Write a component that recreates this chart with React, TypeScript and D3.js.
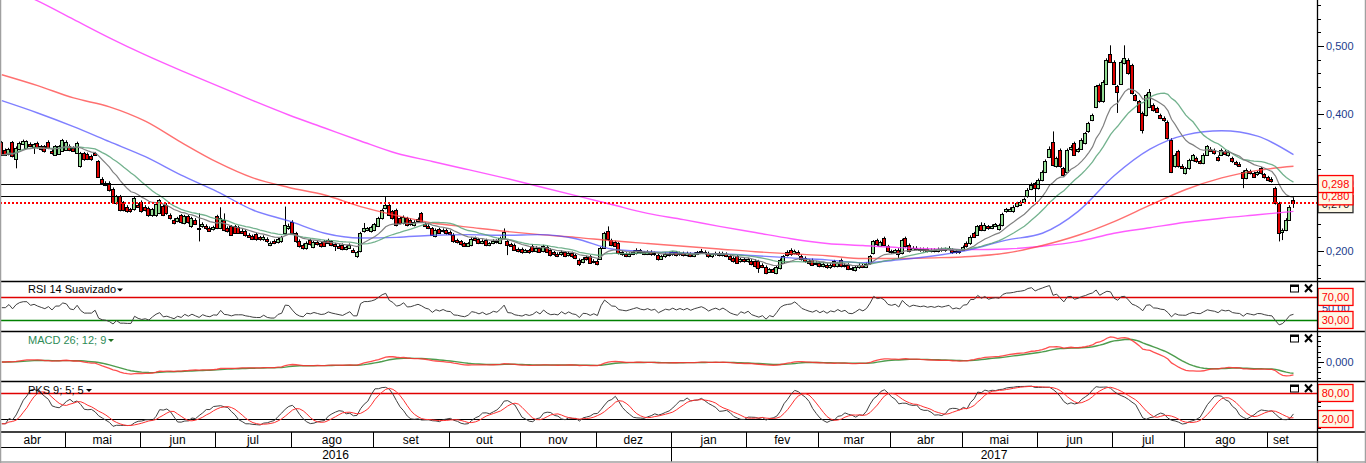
import React from 'react';
import * as d3 from 'd3';

if (typeof document !== 'undefined') {
  document.body.style.margin = '0';
}

const W = 1366;
const H = 463;
const AXIS_X = 1317;
const STEP = 3.588;
const FONT = "'Liberation Sans', Arial, sans-serif";

// ---- time axis categories ----
const MONTH_LABELS = ['abr', 'mai', 'jun', 'jul', 'ago', 'set', 'out', 'nov', 'dez', 'jan', 'fev', 'mar', 'abr', 'mai', 'jun', 'jul', 'ago', 'set'];
const MONTH_DAYS = [18, 21, 21, 21, 23, 21, 20, 21, 21, 21, 20, 20, 20, 21, 21, 20, 23, 8];
const YEAR_LABELS = ['2016', '2017'];
const YEAR_MONTHS = [9, 9];

// ---- daily candles (price in thousandths) ----
const OPEN = [
  359, 348, 342, 359, 334, 349, 356, 351, 357, 352, 358, 353, 353, 360, 347, 341, 342, 346,
  348, 354, 351, 343, 324, 343, 342, 339, 343, 331, 306, 300, 300, 291, 270, 280, 271, 265, 261, 261, 268,
  272, 265, 263, 252, 252, 256, 266, 268, 253, 246, 244, 252, 241, 251, 236, 246, 234, 236, 237, 234, 232,
  251, 234, 246, 234, 236, 236, 235, 230, 230, 224, 222, 225, 220, 217, 218, 209, 215, 213, 214, 226, 233,
  243, 226, 215, 209, 204, 216, 206, 213, 212, 214, 216, 214, 210, 208, 209, 203, 205, 202, 192, 200, 229, 231, 229,
  231, 237, 248, 263, 268, 258, 260, 248, 241, 248, 246, 238, 244, 255, 240, 237, 233, 222, 232, 229, 231,
  228, 224, 216, 214, 211, 208, 209, 219, 217, 212, 216, 209, 212, 215, 212, 219, 214, 210, 209, 203,
  203, 199, 201, 208, 200, 204, 200, 206, 202, 198, 196, 195, 198, 194, 197, 194, 187, 184, 191, 192, 184,
  186, 189, 205, 230, 216, 213, 211, 199, 196, 193, 196, 197, 201, 198, 196, 199, 195, 194, 189, 192, 196,
  195, 198, 195, 197, 194, 196, 193, 196, 198, 199, 197, 192, 195, 197, 194, 196, 193, 190, 192, 185, 188,
  185, 186, 186, 185, 180, 177, 170, 173, 168, 175, 183, 199, 202, 197, 199, 193, 190, 186, 187, 181,
  182, 178, 180, 176, 185, 178, 187, 178, 180, 175, 172, 176, 179, 177, 182, 197, 216, 208, 219, 207,
  200, 198, 202, 197, 219, 209, 202, 205, 203, 201, 203, 200, 202, 200, 203, 201, 203, 202, 198, 200,
  202, 212, 211, 226, 224, 238, 231, 236, 234, 237, 232, 238, 258, 259, 258, 266, 268, 271, 280, 291, 299,
  292, 304, 316, 338, 360, 324, 348, 321, 316, 349, 358, 346, 350, 358, 375, 392, 411, 443, 419, 445, 489,
  477, 441, 445, 475, 480, 472, 428, 419, 402, 399, 411, 414, 409, 399, 395, 389, 363, 324, 346, 325,
  314, 321, 333, 336, 331, 329, 341, 350, 348, 338, 341, 346, 340, 336, 330, 328, 316, 307, 317, 314, 312, 321, 312,
  308, 306, 292, 270, 228, 231, 246, 274,
];
const CLOSE = [
  341, 341, 349, 339, 351, 358, 361, 361, 353, 356, 352, 349, 346, 351, 343, 353, 353, 362,
  360, 348, 346, 358, 343, 334, 334, 334, 341, 309, 300, 297, 289, 271, 280, 260, 260, 258, 258, 277, 265,
  258, 260, 252, 261, 269, 274, 253, 255, 248, 241, 248, 242, 251, 242, 248, 240, 232, 240, 233, 230, 235,
  234, 248, 231, 229, 224, 227, 227, 227, 223, 221, 218, 217, 217, 221, 214, 212, 212, 218, 220, 238, 237,
  226, 214, 207, 204, 212, 210, 213, 210, 207, 208, 212, 209, 207, 205, 203, 206, 209, 199, 199, 226, 233, 233, 235,
  239, 248, 260, 268, 253, 248, 238, 241, 250, 238, 239, 243, 247, 243, 237, 234, 224, 231, 227, 231, 226,
  225, 214, 213, 210, 208, 211, 218, 216, 212, 215, 209, 211, 215, 213, 219, 228, 209, 208, 202, 200,
  198, 201, 198, 200, 205, 199, 207, 199, 194, 195, 193, 199, 193, 197, 192, 190, 181, 189, 188, 183, 186,
  181, 204, 226, 218, 209, 208, 197, 195, 193, 196, 199, 202, 198, 196, 199, 195, 197, 188, 192, 196, 194,
  198, 194, 197, 194, 197, 193, 196, 198, 200, 197, 192, 195, 197, 194, 197, 193, 188, 185, 183, 188, 185,
  188, 181, 178, 175, 177, 168, 173, 170, 177, 187, 192, 194, 195, 200, 195, 188, 185, 182, 180, 183,
  178, 181, 176, 180, 178, 182, 178, 180, 174, 173, 176, 180, 177, 181, 192, 214, 210, 213, 209, 200,
  198, 201, 195, 216, 207, 200, 205, 203, 201, 203, 200, 202, 200, 203, 201, 203, 205, 198, 200, 198,
  206, 207, 221, 221, 236, 231, 238, 233, 237, 239, 238, 254, 261, 262, 265, 270, 272, 276, 290, 297, 292,
  304, 316, 332, 350, 326, 336, 324, 311, 348, 352, 341, 349, 363, 372, 387, 399, 441, 419, 448, 480, 477,
  445, 433, 477, 482, 460, 431, 421, 404, 377, 428, 433, 406, 404, 395, 391, 365, 316, 341, 324, 322,
  321, 333, 340, 331, 329, 341, 353, 347, 343, 333, 348, 342, 345, 331, 327, 325, 307, 319, 314, 309, 315, 314, 308,
  304, 302, 270, 226, 231, 246, 265, 270,
];
const HIGH = [
  361, 350, 351, 361, 353, 360, 363, 362, 359, 358, 360, 355, 355, 362, 349, 355, 355, 364,
  362, 356, 353, 360, 345, 345, 344, 341, 345, 333, 308, 302, 302, 293, 282, 282, 273, 267, 263, 279, 270,
  274, 267, 265, 263, 271, 276, 268, 270, 255, 248, 250, 254, 253, 253, 250, 248, 255, 242, 239, 236, 237,
  253, 264, 255, 236, 238, 238, 237, 232, 232, 226, 224, 227, 222, 223, 220, 214, 217, 220, 222, 265, 240,
  245, 228, 217, 211, 214, 218, 215, 215, 214, 216, 218, 216, 212, 210, 211, 208, 211, 204, 200, 228, 241, 235, 237,
  241, 250, 262, 280, 270, 260, 262, 250, 252, 250, 248, 245, 249, 257, 242, 239, 235, 233, 234, 233, 233,
  230, 226, 218, 216, 213, 213, 220, 221, 219, 217, 218, 213, 217, 217, 221, 233, 216, 212, 211, 205,
  205, 203, 203, 210, 207, 206, 209, 208, 204, 200, 198, 201, 200, 199, 199, 196, 189, 191, 193, 194, 188,
  188, 206, 228, 236, 218, 215, 213, 201, 198, 198, 201, 204, 203, 200, 201, 201, 199, 196, 194, 198, 198,
  200, 200, 199, 199, 199, 198, 198, 200, 203, 201, 199, 197, 199, 199, 199, 198, 195, 192, 194, 190, 190,
  190, 188, 188, 187, 182, 179, 175, 175, 179, 189, 194, 201, 204, 202, 201, 195, 192, 188, 189, 185,
  184, 183, 182, 182, 187, 184, 189, 182, 182, 177, 178, 182, 181, 183, 194, 216, 218, 215, 221, 209,
  202, 203, 204, 218, 221, 211, 207, 207, 205, 205, 205, 204, 204, 205, 205, 205, 207, 204, 202, 202,
  208, 214, 223, 228, 238, 242, 241, 238, 239, 241, 240, 256, 263, 264, 267, 272, 274, 278, 292, 300, 301,
  306, 318, 334, 353, 375, 338, 350, 323, 350, 355, 360, 351, 365, 374, 389, 401, 443, 445, 450, 482, 501,
  479, 443, 479, 501, 482, 474, 430, 421, 404, 430, 437, 416, 411, 401, 397, 391, 365, 343, 348, 327,
  323, 335, 342, 338, 333, 343, 355, 352, 350, 340, 350, 348, 347, 338, 332, 330, 318, 321, 319, 316, 317, 323, 314,
  310, 308, 294, 272, 233, 248, 267, 280,
];
const LOW = [
  339, 339, 340, 337, 321, 348, 355, 350, 352, 342, 350, 347, 344, 349, 341, 340, 341, 345,
  347, 346, 345, 342, 322, 332, 333, 332, 339, 307, 298, 295, 287, 269, 268, 258, 258, 256, 256, 259, 263,
  256, 258, 250, 250, 250, 254, 251, 253, 246, 239, 242, 240, 239, 240, 234, 238, 214, 234, 231, 228, 230,
  232, 232, 229, 227, 222, 225, 225, 225, 221, 219, 216, 215, 215, 215, 212, 207, 210, 211, 212, 224, 231,
  224, 212, 205, 202, 202, 208, 204, 208, 205, 206, 210, 207, 200, 203, 201, 201, 203, 197, 190, 198, 227, 229, 227,
  229, 235, 246, 261, 251, 246, 236, 239, 239, 236, 237, 236, 242, 241, 235, 232, 222, 220, 225, 227, 224,
  223, 212, 211, 208, 206, 206, 207, 214, 210, 210, 207, 207, 210, 211, 210, 217, 194, 206, 200, 198,
  196, 197, 196, 198, 198, 197, 198, 197, 192, 193, 191, 193, 191, 192, 190, 188, 178, 182, 186, 181, 182,
  179, 187, 203, 215, 207, 206, 195, 193, 191, 191, 194, 195, 196, 194, 194, 193, 193, 186, 187, 190, 192,
  193, 192, 193, 192, 192, 191, 191, 194, 196, 195, 190, 190, 193, 192, 192, 191, 186, 183, 181, 183, 183,
  183, 179, 176, 168, 175, 166, 168, 168, 166, 173, 181, 192, 193, 195, 193, 186, 183, 180, 178, 179,
  176, 176, 174, 174, 176, 176, 176, 176, 172, 171, 170, 174, 175, 175, 180, 195, 207, 206, 207, 198,
  196, 196, 190, 195, 205, 198, 200, 201, 199, 199, 198, 198, 198, 198, 199, 199, 201, 196, 196, 196,
  200, 205, 209, 219, 222, 229, 229, 231, 232, 235, 230, 236, 256, 257, 256, 264, 266, 269, 278, 289, 272,
  290, 302, 314, 336, 324, 322, 322, 309, 314, 347, 339, 344, 348, 356, 373, 390, 409, 417, 417, 443, 475,
  443, 402, 443, 473, 458, 429, 419, 402, 372, 397, 409, 404, 402, 393, 389, 363, 314, 322, 322, 320,
  312, 319, 331, 329, 327, 327, 339, 345, 341, 331, 339, 340, 338, 329, 325, 323, 292, 305, 312, 307, 310, 312, 306,
  302, 300, 268, 214, 216, 229, 244, 263,
];

// ---- long moving averages (every 10 candles) ----
const MA_IDX = d3.range(0, 361, 10);
const MA_BLUE = [420, 402, 382, 360, 338, 311, 287, 260, 244, 226, 219, 220, 223, 224, 223, 224, 218, 203, 199, 197, 196, 193, 190, 187, 183, 187, 193, 202, 216, 226, 258, 310, 349, 370, 376, 368, 341];
const MA_RED = [458, 442, 424, 411, 390, 359, 330, 307, 293, 282, 265, 252, 241, 235, 229, 224, 220, 215, 211, 207, 203, 199, 196, 193, 189, 189, 190, 192, 197, 208, 223, 243, 267, 290, 307, 318, 324];
const MA_MAGENTA = [590, 566, 539, 512, 487, 464, 442, 420, 399, 380, 361, 343, 331, 319, 307, 294, 281, 268, 255, 246, 236, 227, 218, 211, 208, 205, 203, 202, 203, 207, 214, 226, 234, 242, 248, 253, 258];

// ---- reference levels ----
const LEVEL_LINES = [298, 280];
const LAST_PRICE = 270;
const PRICE_TICKS = [200, 300, 400, 500];
const RSI_LEVELS = [70, 30];
const PKS_LEVELS = [80, 20];

// ---- indicator helpers ----
function ema(arr: number[], n: number) {
  const k = 2 / (n + 1);
  const out: number[] = [];
  let prev = arr[0];
  arr.forEach((v, i) => {
    prev = i === 0 ? v : prev + k * (v - prev);
    out.push(prev);
  });
  return out;
}
function sma(arr: number[], n: number) {
  return arr.map((_, i) => d3.mean(arr.slice(Math.max(0, i - n + 1), i + 1)) as number);
}
function rsi(c: number[], n: number) {
  // Wilder smoothing, seeded with the average gain / loss of the first n changes
  const ch = c.map((v, i) => (i === 0 ? 0 : v - c[i - 1]));
  const seed = ch.slice(1, n + 1);
  let ag = d3.mean(seed.map((v) => Math.max(v, 0))) as number;
  let al = d3.mean(seed.map((v) => Math.max(-v, 0))) as number;
  const val = () => (al === 0 ? 100 : 100 - 100 / (1 + ag / al));
  const out = [val()];
  for (let i = 1; i < c.length; i++) {
    ag = (ag * (n - 1) + Math.max(ch[i], 0)) / n;
    al = (al * (n - 1) + Math.max(-ch[i], 0)) / n;
    out.push(val());
  }
  return out;
}
function stoch(c: number[], h: number[], l: number[], n: number) {
  return c.map((v, i) => {
    const s = Math.max(0, i - n + 1);
    const hh = d3.max(h.slice(s, i + 1)) as number;
    const ll = d3.min(l.slice(s, i + 1)) as number;
    return hh === ll ? 50 : ((v - ll) / (hh - ll)) * 100;
  });
}

const fmt3 = (v: number) => (v / 1000).toFixed(3).replace('.', ',');
const fmt2 = (v: number) => v.toFixed(2).replace('.', ',');

function LabelBox({ y, text, color, border }: { y: number; text: string; color: string; border: string }) {
  return (
    <g>
      <rect x={1318} y={y - 8.5} width={35} height={17} fill="#fdf8e6" stroke={border} strokeWidth={1.3} />
      <text x={1335.5} y={y + 4} textAnchor="middle" fontSize={11} fill={color} fontFamily={FONT}>{text}</text>
    </g>
  );
}

function PaneIcons({ y }: { y: number }) {
  return (
    <g>
      <rect x={1290.5} y={y - 3.5} width={8} height={7} fill="none" stroke="#000" strokeWidth={1} />
      <line x1={1290.5} x2={1298.5} y1={y - 2.5} y2={y - 2.5} stroke="#000" strokeWidth={2} />
      <path d={`M1305,${y - 4} L1312,${y + 3.5} M1312,${y - 4} L1305,${y + 3.5}`} stroke="#000" strokeWidth={2} />
    </g>
  );
}

export default function App() {
  const n = CLOSE.length;
  const x = d3.scaleBand<number>().domain(d3.range(n)).range([0, n * STEP]).padding(0);
  const cx = (i: number) => (x(i) as number) + x.bandwidth() / 2;

  const yP = d3.scaleLinear().domain([200, 500]).range([251, 46]);
  const yR = d3.scaleLinear().domain([0, 100]).range([337.2, 279.7]);
  const yM = d3.scaleLinear().domain([-50, 50]).range([388, 336]);
  const yK = d3.scaleLinear().domain([0, 100]).range([427.7, 384.3]);

  const grayMA = ema(CLOSE, 13);
  const greenMA = sma(CLOSE, 21);
  const rsiV = rsi(CLOSE, 14);
  const ema26 = ema(CLOSE, 26);
  const macd = ema(CLOSE, 12).map((v, i) => v - ema26[i]);
  const signal = ema(macd, 9);
  const rawK = stoch(CLOSE, HIGH, LOW, 9);
  const slowK = sma(rawK, 5);
  const slowD = sma(slowK, 5);

  const seriesLine = (vals: number[], ys: d3.ScaleLinear<number, number>) =>
    d3.line<number>().x((_, i) => cx(i)).y((v) => ys(v))(vals) || '';
  const sampledLine = (vals: number[]) =>
    d3.line<number>().x((_, k) => cx(MA_IDX[k])).y((v) => yP(v)).curve(d3.curveMonotoneX)(vals) || '';

  // month boundaries
  const monthStarts: number[] = [];
  let acc = 0;
  MONTH_DAYS.forEach((d) => { monthStarts.push(acc); acc += d; });
  const monthX0 = monthStarts.map((s) => (s === 0 ? 0 : (x(s) as number)));
  const monthX1 = monthStarts.map((s, k) => (k < monthStarts.length - 1 ? (x(monthStarts[k + 1]) as number) : n * STEP));
  const yearX: number[] = [0];
  let mAcc = 0;
  YEAR_MONTHS.forEach((m, k) => { mAcc += m; yearX.push(k < YEAR_MONTHS.length - 1 ? monthX0[mAcc] : AXIS_X); });

  const candles = OPEN.map((o, i) => {
    const c = CLOSE[i];
    const px = Math.floor(cx(i));
    const top = Math.round(yP(Math.max(o, c))) + 0.5;
    const bot = Math.round(yP(Math.min(o, c))) + 0.5;
    const fill = c > o ? '#92dc92' : c < o ? '#e00000' : '#000';
    return (
      <g key={i}>
        <line x1={px + 0.5} x2={px + 0.5} y1={yP(HIGH[i])} y2={yP(LOW[i])} stroke="#000" strokeWidth={1} />
        <rect x={px - 1.5} y={top} width={3} height={Math.max(bot - top, 1)} fill={fill} stroke="#000" strokeWidth={1} shapeRendering="crispEdges" />
      </g>
    );
  });

  const minorPriceTicks = d3.range(160, 570, 20);
  const macdTicks = d3.range(-40, 60, 10);
  const pksTicks = d3.range(0, 101, 10);

  return (
    <svg width={W} height={H} style={{ display: 'block', background: '#fff' }} fontFamily={FONT}>
      <defs>
        <clipPath id="cp-price"><rect x={0} y={0} width={AXIS_X} height={281} /></clipPath>
        <clipPath id="cp-rsi"><rect x={0} y={282} width={AXIS_X} height={49} /></clipPath>
        <clipPath id="cp-macd"><rect x={0} y={332} width={AXIS_X} height={49} /></clipPath>
        <clipPath id="cp-pks"><rect x={0} y={382} width={AXIS_X} height={50} /></clipPath>
      </defs>
      <rect x={0} y={0} width={W} height={H} fill="#fff" />

      {/* ---------- price pane ---------- */}
      <g clipPath="url(#cp-price)">
        {candles}
        <path d={sampledLine(MA_MAGENTA)} fill="none" stroke="#ff40ff" strokeWidth={1.4} strokeOpacity={0.85} />
        <path d={sampledLine(MA_RED)} fill="none" stroke="#ff4040" strokeWidth={1.4} strokeOpacity={0.75} />
        <path d={sampledLine(MA_BLUE)} fill="none" stroke="#4848ff" strokeWidth={1.4} strokeOpacity={0.7} />
        <path d={seriesLine(greenMA, yP)} fill="none" stroke="#5aa57a" strokeWidth={1.3} strokeOpacity={0.85} />
        <path d={seriesLine(grayMA, yP)} fill="none" stroke="#808080" strokeWidth={1.2} />
        {LEVEL_LINES.map((v) => (
          <line key={v} x1={0} x2={AXIS_X} y1={Math.round(yP(v)) + 0.5} y2={Math.round(yP(v)) + 0.5} stroke="#000" strokeWidth={1.2} />
        ))}
        <line x1={0} x2={AXIS_X} y1={Math.round(yP(LAST_PRICE))} y2={Math.round(yP(LAST_PRICE))} stroke="#ff0000" strokeWidth={2.2} strokeDasharray="2,2" />
      </g>

      {/* price axis */}
      {minorPriceTicks.map((v) => {
        const major = v % 100 === 0;
        const yy = Math.round(yP(v)) + 0.5;
        return yy > 0 && yy < 281 ? (
          <line key={v} x1={AXIS_X} x2={AXIS_X + (major ? 7 : 4)} y1={yy} y2={yy} stroke="#000" strokeWidth={1} />
        ) : null;
      })}
      {PRICE_TICKS.map((v) => (
        <text key={v} x={1326} y={yP(v) + 4} fontSize={11} fill="#1c3c8c">{fmt3(v)}</text>
      ))}
      <LabelBox y={yP(LAST_PRICE) + 1} text={fmt3(LAST_PRICE)} color="#202020" border="#303030" />
      <LabelBox y={yP(LEVEL_LINES[1])} text={fmt3(LEVEL_LINES[1])} color="#ff0000" border="#ff0000" />
      <LabelBox y={yP(LEVEL_LINES[0])} text={fmt3(LEVEL_LINES[0])} color="#ff0000" border="#ff0000" />

      {/* ---------- RSI pane ---------- */}
      <g clipPath="url(#cp-rsi)">
        <line x1={0} x2={AXIS_X} y1={Math.round(yR(RSI_LEVELS[0])) + 0.5} y2={Math.round(yR(RSI_LEVELS[0])) + 0.5} stroke="#e00000" strokeWidth={1.3} />
        <line x1={0} x2={AXIS_X} y1={Math.round(yR(RSI_LEVELS[1])) + 0.5} y2={Math.round(yR(RSI_LEVELS[1])) + 0.5} stroke="#008000" strokeWidth={1.5} />
        <path d={seriesLine(rsiV, yR)} fill="none" stroke="#404040" strokeWidth={1} />
      </g>
      <text x={28} y={293} fontSize={11} fill="#000">RSI 14 Suavizado</text>
      <path d="M117,288.5 L123,288.5 L120,291.5 Z" fill="#000" />
      <PaneIcons y={288.5} />
      <text x={1322} y={yR(50) + 4} fontSize={11} fill="#1c3c8c">{fmt2(50)}</text>
      <LabelBox y={yR(RSI_LEVELS[0])} text={fmt2(RSI_LEVELS[0])} color="#ff0000" border="#ff0000" />
      <LabelBox y={yR(RSI_LEVELS[1])} text={fmt2(RSI_LEVELS[1])} color="#ff0000" border="#ff0000" />

      {/* ---------- MACD pane ---------- */}
      <g clipPath="url(#cp-macd)">
        <path d={seriesLine(signal, yM)} fill="none" stroke="#2e8b2e" strokeWidth={1.4} strokeOpacity={0.85} />
        <path d={seriesLine(macd, yM)} fill="none" stroke="#ff3030" strokeWidth={1.3} strokeOpacity={0.85} />
      </g>
      <text x={28} y={344} fontSize={11} fill="#2e8b57">MACD 26; 12; 9</text>
      <path d="M108,339 L114,339 L111,342 Z" fill="#1f6f1f" />
      <PaneIcons y={338.5} />
      {macdTicks.map((v) => {
        const yy = Math.round(yM(v)) + 0.5;
        return yy > 332 && yy < 381 ? (
          <line key={v} x1={AXIS_X} x2={AXIS_X + (v === 0 ? 7 : 4)} y1={yy} y2={yy} stroke="#000" strokeWidth={1} />
        ) : null;
      })}
      <text x={1326} y={yM(0) + 4} fontSize={11} fill="#1c3c8c">0,000</text>

      {/* ---------- PKS pane ---------- */}
      <g clipPath="url(#cp-pks)">
        <line x1={0} x2={AXIS_X} y1={Math.round(yK(PKS_LEVELS[0])) + 0.5} y2={Math.round(yK(PKS_LEVELS[0])) + 0.5} stroke="#e00000" strokeWidth={1.3} />
        <line x1={0} x2={AXIS_X} y1={Math.round(yK(PKS_LEVELS[1])) + 0.5} y2={Math.round(yK(PKS_LEVELS[1])) + 0.5} stroke="#000" strokeWidth={1.2} />
        <path d={seriesLine(slowK, yK)} fill="none" stroke="#404040" strokeWidth={1} />
        <path d={seriesLine(slowD, yK)} fill="none" stroke="#ff3030" strokeWidth={1} />
      </g>
      <text x={28} y={394} fontSize={11} fill="#000">PKS 9; 5; 5</text>
      <path d="M86,389 L92,389 L89,392 Z" fill="#000" />
      <PaneIcons y={388.5} />
      {pksTicks.map((v) => {
        const yy = Math.round(yK(v)) + 0.5;
        return <line key={v} x1={AXIS_X} x2={AXIS_X + 4} y1={yy} y2={yy} stroke="#000" strokeWidth={1} />;
      })}
      <LabelBox y={yK(PKS_LEVELS[0])} text={fmt2(PKS_LEVELS[0])} color="#ff0000" border="#ff0000" />
      <LabelBox y={yK(PKS_LEVELS[1])} text={fmt2(PKS_LEVELS[1])} color="#ff0000" border="#ff0000" />

      {/* ---------- pane separators ---------- */}
      {[281.5, 331.5, 381.5, 432].map((yy) => (
        <line key={yy} x1={0} x2={W} y1={yy} y2={yy} stroke="#000" strokeWidth={1.3} />
      ))}
      <line x1={0} x2={AXIS_X} y1={447.5} y2={447.5} stroke="#000" strokeWidth={1.2} />
      <line x1={AXIS_X + 0.5} x2={AXIS_X + 0.5} y1={0} y2={H} stroke="#000" strokeWidth={1.3} />

      {/* ---------- time axis ---------- */}
      {MONTH_LABELS.map((m, k) => (
        <g key={k}>
          {k > 0 && <line x1={Math.round(monthX0[k]) + 0.5} x2={Math.round(monthX0[k]) + 0.5} y1={432} y2={447.5} stroke="#000" strokeWidth={1} />}
          <text x={(monthX0[k] + monthX1[k]) / 2} y={443.5} textAnchor="middle" fontSize={12} fill="#000">{m}</text>
        </g>
      ))}
      {YEAR_LABELS.map((yl, k) => (
        <g key={yl}>
          {k > 0 && <line x1={Math.round(yearX[k]) + 0.5} x2={Math.round(yearX[k]) + 0.5} y1={447.5} y2={462} stroke="#000" strokeWidth={1} />}
          <text x={(yearX[k] + yearX[k + 1]) / 2} y={459} textAnchor="middle" fontSize={12} fill="#000">{yl}</text>
        </g>
      ))}

      {/* outer frame */}
      <line x1={0.5} x2={0.5} y1={0} y2={H} stroke="#a0a0a0" strokeWidth={1.5} />
      <line x1={W - 0.5} x2={W - 0.5} y1={0} y2={H} stroke="#a0a0a0" strokeWidth={1.5} />
      <line x1={0} x2={W} y1={462} y2={462} stroke="#a0a0a0" strokeWidth={1.5} />
    </svg>
  );
}
